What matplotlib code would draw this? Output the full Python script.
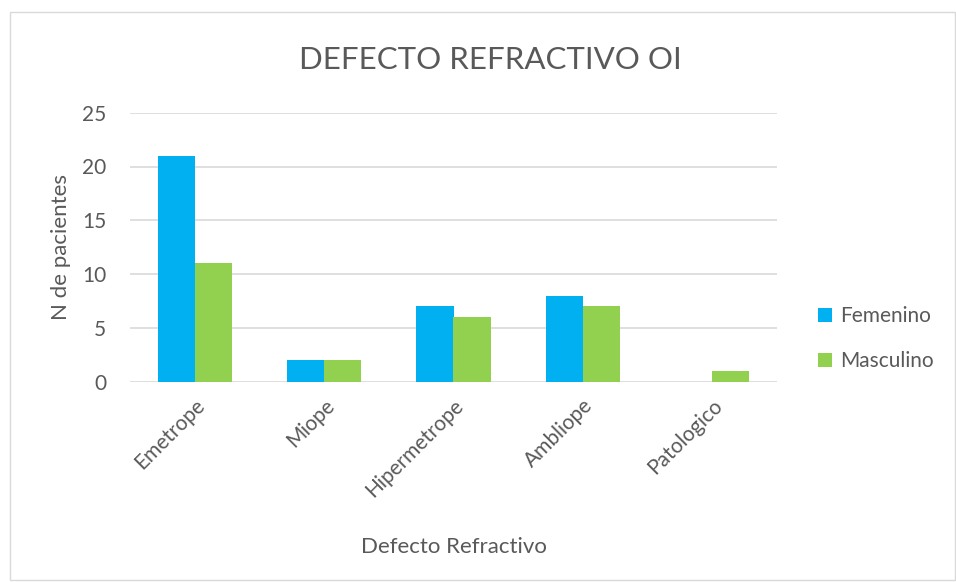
import matplotlib
matplotlib.use("Agg")
import matplotlib.pyplot as plt
import numpy as np
from matplotlib.patches import Rectangle

plt.rcParams['font.family'] = ['Lato', 'DejaVu Sans']

categorias = ['Emetrope', 'Miope', 'Hipermetrope', 'Ambliope', 'Patologico']
femenino = [21, 2, 7, 8, 0]
masculino = [11, 2, 6, 7, 1]
yticks = [0, 5, 10, 15, 20, 25]

TXT = '#595959'
W = 956
H = 582

fig = plt.figure(figsize=(W / 100, H / 100), dpi=100)
ax = fig.add_axes([130 / W, 1 - 381.7 / H, (777 - 130) / W, (381.7 - 112.7) / H])

x = np.arange(len(categorias))
bw = 0.286
ax.bar(x - bw / 2, femenino, bw, color='#00B0F0', label='Femenino', zorder=3)
ax.bar(x + bw / 2, masculino, bw, color='#92D050', label='Masculino', zorder=3)

ax.set_xlim(-0.5, len(categorias) - 0.5)
ax.set_ylim(0, 25)
ax.set_yticks(yticks)
ax.yaxis.grid(True, color='#D9D9D9', linewidth=1.2, zorder=0)
for s in ax.spines.values():
    s.set_visible(False)
ax.tick_params(axis='both', length=0, labelcolor=TXT, labelsize=15)
ax.tick_params(axis='y', pad=17)
ax.set_xticks(x)
ax.set_xticklabels(categorias, rotation=45, ha='right', va='top', rotation_mode='anchor')
ax.tick_params(axis='x', pad=10)

ax.set_xlabel('Defecto Refractivo', color=TXT, fontsize=16, labelpad=26)
ax.set_ylabel('N de pacientes', color=TXT, fontsize=16, labelpad=8)
fig.text(490 / W, 1 - 60 / H, 'DEFECTO REFRACTIVO OI', color=TXT, fontsize=22.5,
         ha='center', va='center')

leg = ax.legend(loc='center left', bbox_to_anchor=(1.035, 0.16), frameon=False,
                fontsize=15, labelcolor=TXT, handlelength=0.65, handleheight=0.65,
                handletextpad=0.4, labelspacing=1.2)

fig.patches.append(Rectangle((10 / W, 1 - 580 / H), 945 / W, 568 / H, transform=fig.transFigure,
                             fill=False, edgecolor='#D9D9D9', linewidth=1))

fig.savefig('out.png', dpi=100)
